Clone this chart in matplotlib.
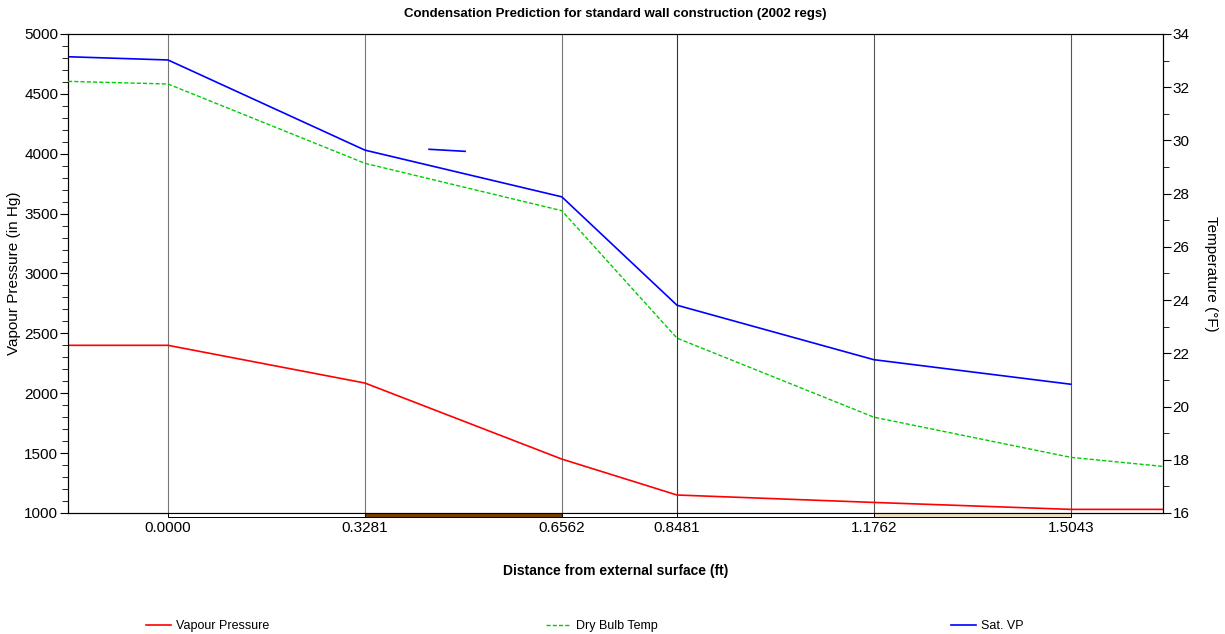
import numpy as np
import matplotlib
matplotlib.use("Agg")
import matplotlib.pyplot as plt
from matplotlib.lines import Line2D
from matplotlib.patches import Rectangle
from matplotlib.ticker import MultipleLocator

plt.rcParams["font.family"] = ["Liberation Sans", "DejaVu Sans"]

# layer boundaries (ft); first/last points are the surface film ends
distance = [-0.1667, 0.0, 0.3281, 0.6562, 0.8481, 1.1762, 1.5043, 1.658]
tick_pos = [0.0, 0.3281, 0.6562, 0.8481, 1.1762, 1.5043]
tick_labels = ["0.0000", "0.3281", "0.6562", "0.8481", "1.1762", "1.5043"]

vapour_pressure = [2400, 2400, 2085, 1450, 1150, 1088, 1030, 1030]
dry_bulb_temp = [32.22, 32.12, 29.14, 27.36, 22.57, 19.6, 18.09, 17.75]
sat_vp_x = distance[:-1]
sat_vp = [4810, 4783, 4030, 3640, 2735, 2280, 2075]

# stray blue fragment visible in the original chart
stray_x = [0.435, 0.495]
stray_y = [4037, 4020]

# material layer strip along the bottom
layer_edges = [0.0, 0.3281, 0.6562, 0.8481, 1.1762, 1.5043]
layer_colors = ["white", "#7a3e00", "white", "white", "#f0dfc0"]

fig = plt.figure(figsize=(12.25, 6.34), dpi=100)
ax = fig.add_axes([0.0555, 0.1909, 0.8939, 0.7555])
ax2 = ax.twinx()

ax.plot(distance, vapour_pressure, color="red", lw=1.2, zorder=3)
ax.plot(sat_vp_x, sat_vp, color="blue", lw=1.2, zorder=3)
ax.plot(stray_x, stray_y, color="blue", lw=1.2, zorder=3)
ax2.plot(distance, dry_bulb_temp, color="#00cc00", lw=1.0, ls=(0, (3, 1.5)), zorder=3)

ax.set_xlim(distance[0], distance[-1])
ax.set_ylim(1000, 5000)
ax2.set_ylim(16, 34)

grid_colors = ["#777777", "#777777", "#777777", "#333333", "#555555", "#555555"]
for x, gc in zip(tick_pos, grid_colors):
    ax.axvline(x, color=gc, lw=0.8, zorder=1)

trans = ax.get_xaxis_transform()
for i, c in enumerate(layer_colors):
    ax.add_patch(Rectangle((layer_edges[i], -0.008), layer_edges[i + 1] - layer_edges[i], 0.008,
                           transform=trans, facecolor=c, edgecolor="black", lw=0.7,
                           clip_on=False, zorder=4))

ax.set_xticks(tick_pos)
ax.set_xticklabels(tick_labels)
ax.tick_params(axis="x", length=0, labelsize=11, pad=6)
ax.yaxis.set_major_locator(MultipleLocator(500))
ax.yaxis.set_minor_locator(MultipleLocator(100))
ax.tick_params(axis="y", which="major", length=6, labelsize=11, pad=1)
ax.tick_params(axis="y", which="minor", length=4)
ax2.yaxis.set_major_locator(MultipleLocator(2))
ax2.yaxis.set_minor_locator(MultipleLocator(1))
ax2.tick_params(axis="y", which="major", length=6, labelsize=11, pad=1)
ax2.tick_params(axis="y", which="minor", length=4)

ax.set_ylabel("Vapour Pressure (in Hg)", fontsize=11, labelpad=2)
ax2.set_ylabel("Temperature (°F)", fontsize=11, rotation=270, labelpad=20)
ax.set_xlabel("Distance from external surface (ft)", fontsize=10, fontweight="bold", labelpad=21)
ax.set_title("Condensation Prediction for standard wall construction (2002 regs)",
             fontsize=9.5, fontweight="bold", pad=12)

entries = [
    ("Vapour Pressure", Line2D([], [], color="red", lw=1.2), 0.119),
    ("Dry Bulb Temp", Line2D([], [], color="#00cc00", lw=1.0, ls=(0, (3, 1.5))), 0.446),
    ("Sat. VP", Line2D([], [], color="blue", lw=1.2), 0.776),
]
for label, handle, xpos in entries:
    fig.legend([handle], [label], loc="center left", bbox_to_anchor=(xpos, 0.012),
               frameon=False, fontsize=9, handlelength=2.0, handletextpad=0.4,
               borderaxespad=0, borderpad=0)

fig.savefig("out.png", dpi=100)
